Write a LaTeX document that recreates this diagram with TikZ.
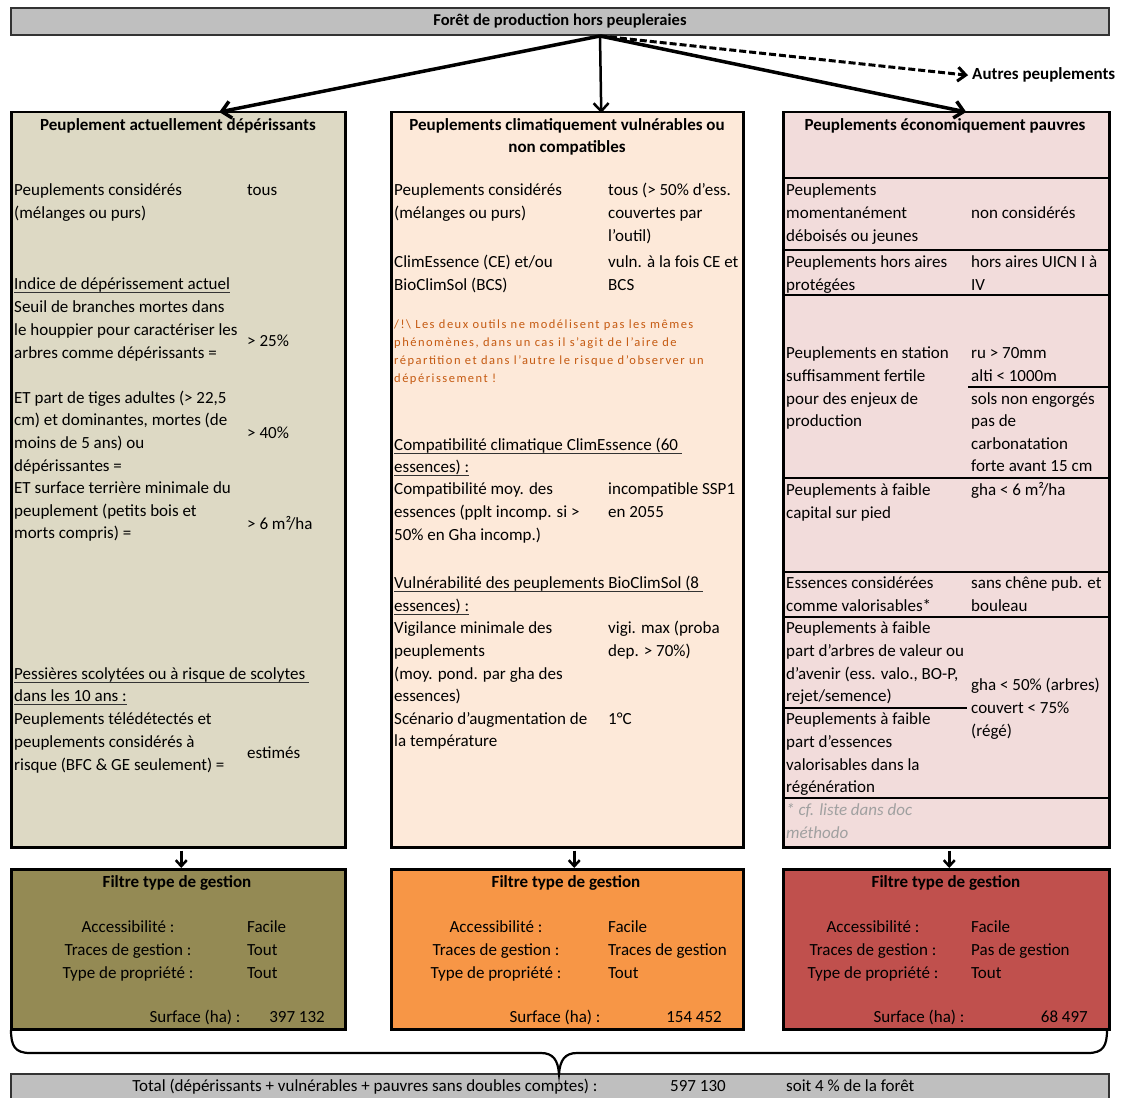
\documentclass[tikz,border=0pt]{standalone}
\usepackage{fontspec}
\setmainfont{Carlito}
\usetikzlibrary{arrows.meta}
\definecolor{topgray}{HTML}{BFBFBF}
\definecolor{leftfill}{HTML}{DDD9C4}
\definecolor{centerfill}{HTML}{FDE9D9}
\definecolor{rightfill}{HTML}{F2DCDB}
\definecolor{olive}{HTML}{948A54}
\definecolor{orangef}{HTML}{F79646}
\definecolor{redf}{HTML}{C0504D}
\definecolor{warn}{HTML}{C55A11}
\definecolor{note}{HTML}{A0A0A0}
\newcommand\fsbody{\fontsize{17}{20}\selectfont}
\newcommand\tlines[5]{\foreach \tx [count=\i from 0] in {#5}{\node[txt,#2] (#1\i) at (#3,{#4+22.6*\i}) {\tx};}}
\tikzset{
  txt/.style={font=\fsbody, inner sep=0pt, anchor=mid west, yshift=-3.5pt},
  rt/.style={anchor=mid east},
  ct/.style={anchor=mid},
  hdr/.style={font=\fsbody\bfseries, inner sep=0pt, anchor=mid, yshift=-3.5pt},
  bigbox/.style={draw=black, line width=2.5pt, anchor=north west, inner sep=0pt},
  rule/.style={line width=2.2pt},
  thinrule/.style={line width=1.5pt},
  ulline/.style={line width=1.2pt, draw=black!80},
  bigarr/.style={line width=3.5pt, -{Straight Barb[length=9pt,width=17pt]}},
  sarr/.style={line width=2.5pt, -{Straight Barb[length=6pt,width=11pt]}},
}
\begin{document}
\begin{tikzpicture}[x=1pt,y=-1pt]
\useasboundingbox (0,0) rectangle (1121,1097);
\fill[white] (0,0) rectangle (1121,1097);

% top box
\node[bigbox, draw=black!80, line width=2pt, fill=topgray, minimum width=1098pt, minimum height=27pt] (top) at (10,7) {};
\node[hdr, font=\fontsize{16.5}{20}\selectfont\bfseries] (toptxt) at (560,20) {Forêt de production hors peupleraies};

% main boxes
\node[bigbox, fill=leftfill, minimum width=334pt, minimum height=735pt] (L) at (10,111) {};
\node[bigbox, fill=centerfill, minimum width=352pt, minimum height=735pt] (C) at (390,111) {};
\node[bigbox, fill=rightfill, minimum width=326pt, minimum height=735pt] (R) at (782,111) {};

% filter boxes
\node[bigbox, fill=olive, minimum width=334pt, minimum height=160pt] (FL) at (10,868) {};
\node[bigbox, fill=orangef, minimum width=352pt, minimum height=160pt] (FC) at (390,868) {};
\node[bigbox, fill=redf, minimum width=326pt, minimum height=160pt] (FR) at (782,868) {};

% total box
\node[bigbox, draw=black!80, line width=2pt, fill=topgray, minimum width=1098pt, minimum height=26pt] (tot) at (10,1073) {};

% top arrows
\coordinate (src) at (600,36);
\node[hdr, anchor=mid west] (autres) at (972,74) {Autres peuplements};
\draw[bigarr] (src) -- ([xshift=41pt,yshift=-1pt]L.north);
\draw[line width=2.5pt, -{Straight Barb[length=8pt,width=15pt]}] (src) -- ([xshift=34pt,yshift=-2pt]C.north);
\draw[bigarr] (src) -- ([xshift=20pt,yshift=-1pt]R.north);
\draw[line width=3pt, dash pattern=on 7pt off 3pt, -{Straight Barb[length=8pt,width=14pt]}] (src) -- ([xshift=-4pt]autres.west);

% small arrows
\draw[sarr] ([xshift=3pt,yshift=-2pt]L.south) -- ([xshift=3pt]FL.north);
\draw[sarr] ([xshift=7pt,yshift=-2pt]C.south) -- ([xshift=7pt]FC.north);
\draw[sarr] ([xshift=3pt,yshift=-2pt]R.south) -- ([xshift=3pt]FR.north);

% right box rules
\foreach \yy in {178,250,295,478,572,617,798}{\draw[rule] (782,\yy) -- (1108,\yy);}
\draw[thinrule] (968,387) -- (1108,387);
\draw[thinrule] (782,708) -- (967,708);

% ===== left column =====
\node[hdr] (lh) at (178,125) {Peuplement actuellement dépérissants};
\tlines{la}{}{14}{190}{Peuplements considérés,{(mélanges ou purs)}}
\node[txt] (lv0) at (247,190) {tous};
\node[txt] (lu1) at (14,284) {Indice de dépérissement actuel};
\draw[ulline] ([yshift=-3pt]lu1.base west) -- ([yshift=-3pt]lu1.base east);
\tlines{lb}{}{14}{307}{Seuil de branches mortes dans,le houppier pour caractériser les,arbres comme dépérissants =,{},{ET part de tiges adultes (> 22,5},{cm) et dominantes, mortes (de},moins de 5 ans) ou,dépérissantes =,ET surface terrière minimale du,peuplement (petits bois et,morts compris) =}
\node[txt] (lv1) at (247,341) {> 25\%};
\node[txt] (lv2) at (247,433) {> 40\%};
\node[txt] (lv3) at (247,524) {> 6 m²/ha};
\node[txt] (lu2) at (14,674) {Pessières scolytées ou à risque de scolytes};
\draw[ulline] ([yshift=-3pt]lu2.base west) -- ([yshift=-3pt,xshift=4pt]lu2.base east);
\node[txt] (lu3) at (14,696) {dans les 10 ans :};
\draw[ulline] ([yshift=-3pt]lu3.base west) -- ([yshift=-3pt]lu3.base east);
\tlines{lc}{}{14}{719}{Peuplements télédétectés et,peuplements considérés à,risque (BFC \& GE seulement) =}
\node[txt] (lv4) at (247,753) {estimés};

% ===== center column =====
\node[hdr] (ch1) at (567,125) {Peuplements climatiquement vulnérables ou};
\node[hdr] (ch2) at (567,147) {non compatibles};
\tlines{ca}{}{394}{190}{Peuplements considérés,{(mélanges ou purs)}}
\tlines{cva}{}{608}{190}{tous (> 50\% d'ess.,couvertes par,l'outil)}
\tlines{cb}{}{394}{262}{ClimEssence (CE) et/ou,BioClimSol (BCS)}
\tlines{cvb}{}{608}{262}{vuln. à la fois CE et,BCS}
\foreach \tx [count=\i from 0] in {{/!\textbackslash{} Les deux outils ne modélisent pas les mêmes},{phénomènes, dans un cas il s'agit de l'aire de},{répartition et dans l'autre le risque d'observer un},{dépérissement !}}{
  \node[txt, font=\fontsize{12.5}{14}\selectfont\addfontfeatures{LetterSpace=12}, text=warn] (cw\i) at (394,{323+18*\i}) {\tx};}
\node[txt] (cu1) at (394,445) {Compatibilité climatique ClimEssence (60};
\draw[ulline] ([yshift=-3pt]cu1.base west) -- ([yshift=-3pt,xshift=4pt]cu1.base east);
\node[txt] (cu2) at (394,467) {essences) :};
\draw[ulline] ([yshift=-3pt]cu2.base west) -- ([yshift=-3pt]cu2.base east);
\tlines{cc}{}{394}{489}{Compatibilité moy. des,essences (pplt incomp. si >,50\% en Gha incomp.)}
\tlines{cvc}{}{608}{489}{incompatible SSP1,en 2055}
\node[txt] (cu3) at (394,583) {Vulnérabilité des peuplements BioClimSol (8};
\draw[ulline] ([yshift=-3pt]cu3.base west) -- ([yshift=-3pt,xshift=4pt]cu3.base east);
\node[txt] (cu4) at (394,606) {essences) :};
\draw[ulline] ([yshift=-3pt]cu4.base west) -- ([yshift=-3pt]cu4.base east);
\tlines{cd}{}{394}{628}{Vigilance minimale des,peuplements,{(moy. pond. par gha des},essences),Scénario d'augmentation de,la température}
\tlines{cvd}{}{608}{628}{vigi. max (proba,dep. > 70\%)}
\node[txt] (cve) at (608,719) {1°C};

% ===== right column =====
\node[hdr] (rh) at (945,125) {Peuplements économiquement pauvres};
\tlines{ra}{}{786}{190}{Peuplements,momentanément,déboisés ou jeunes}
\node[txt] (rva) at (971,213) {non considérés};
\tlines{rb}{}{786}{262}{Peuplements hors aires,protégées}
\tlines{rvb}{}{971}{262}{hors aires UICN I à,IV}
\tlines{rc}{}{786}{353}{Peuplements en station,suffisamment fertile,pour des enjeux de,production}
\tlines{rvc}{}{971}{353}{ru > 70mm,alti < 1000m,sols non engorgés,pas de,carbonatation,forte avant 15 cm}
\tlines{rd}{}{786}{490}{Peuplements à faible,capital sur pied}
\node[txt] (rvd) at (971,490) {gha < 6 m²/ha};
\tlines{re}{}{786}{583}{Essences considérées,comme valorisables*}
\tlines{rve}{}{971}{583}{sans chêne pub. et,bouleau}
\tlines{rf}{}{786}{628}{Peuplements à faible,part d'arbres de valeur ou,{d'avenir (ess. valo., BO-P,},rejet/semence)}
\tlines{rg}{}{786}{719}{Peuplements à faible,part d'essences,valorisables dans la,régénération}
\tlines{rvf}{}{971}{685}{gha < 50\% (arbres),couvert < 75\%,{(régé)}}
\tlines{rn}{font=\fsbody\itshape, text=note}{786}{810}{* cf. liste dans doc,méthodo}

% ===== filter boxes =====
\node[hdr] (flh) at (177,882) {Filtre type de gestion};
\tlines{fla}{ct}{128}{927}{Accessibilité :,Traces de gestion :,Type de propriété :}
\tlines{flv}{}{247}{927}{Facile,Tout,Tout}
\node[txt,ct] (fls) at (195,1017) {Surface (ha) :};
\node[txt,rt] (fln) at (325,1017) {397 132};

\node[hdr] (fch) at (566,882) {Filtre type de gestion};
\tlines{fca}{ct}{496}{927}{Accessibilité :,Traces de gestion :,Type de propriété :}
\tlines{fcv}{}{608}{927}{Facile,Traces de gestion,Tout}
\node[txt,ct] (fcs) at (555,1017) {Surface (ha) :};
\node[txt,rt] (fcn) at (722,1017) {154 452};

\node[hdr] (frh) at (946,882) {Filtre type de gestion};
\tlines{fra}{ct}{873}{927}{Accessibilité :,Traces de gestion :,Type de propriété :}
\tlines{frv}{}{971}{927}{Facile,Pas de gestion,Tout}
\node[txt,ct] (frs) at (919,1017) {Surface (ha) :};
\node[txt,rt] (frn) at (1088,1017) {68 497};

% brace
\draw[line width=2.2pt] (11,1030) .. controls (11,1046) and (15,1053) .. (30,1053) -- (541,1053)
  .. controls (553,1053) and (558,1060) .. (559,1074)
  .. controls (560,1060) and (565,1053) .. (577,1053) -- (1088,1053)
  .. controls (1103,1053) and (1107,1046) .. (1107,1030);

% total
\node[txt,ct] (tt1) at (365,1086) {Total (dépérissants + vulnérables + pauvres sans doubles comptes) :};
\node[txt,ct] (tt2) at (698,1086) {597 130};
\node[txt] (tt3) at (786,1086) {soit 4 \% de la forêt};
\end{tikzpicture}
\end{document}
